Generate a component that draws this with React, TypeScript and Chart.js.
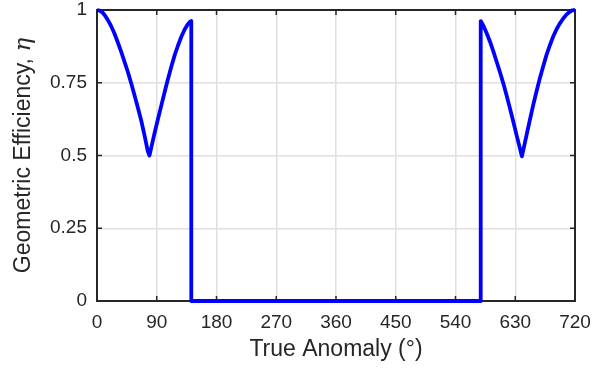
import React, { useEffect, useRef } from "react";
import { Chart, registerables } from "chart.js";

Chart.register(...registerables);

// True anomaly (degrees) and geometric efficiency along one orbit pair
const anomalyDeg: number[] = [
  0, 4, 8, 12, 16, 21, 26, 31, 36.5, 41.5, 46.5, 51.5, 56.5, 61.5, 66.5, 71.5, 76.5, 79,
  83, 87, 92, 97, 102, 107, 112, 117, 122, 127, 132, 137, 140, 142, 142,
  578, 578, 582, 587, 592, 597, 602, 607, 612, 617, 622, 627, 632, 636, 640,
  643.5, 647, 652, 657, 662, 667, 672, 677, 682, 687, 692, 697, 702, 707, 712, 716, 720,
];
const efficiency: number[] = [
  1, 0.998, 0.992, 0.981, 0.967, 0.946, 0.921, 0.891, 0.856, 0.822, 0.787, 0.748, 0.707, 0.665, 0.621, 0.57, 0.515, 0.5,
  0.54, 0.58, 0.627, 0.673, 0.719, 0.764, 0.806, 0.845, 0.878, 0.908, 0.933, 0.952, 0.959, 0.962, 0,
  0, 0.962, 0.946, 0.92, 0.891, 0.858, 0.822, 0.786, 0.748, 0.706, 0.662, 0.617, 0.57, 0.534, 0.497,
  0.533, 0.57, 0.622, 0.673, 0.72, 0.765, 0.806, 0.845, 0.878, 0.908, 0.933, 0.953, 0.970, 0.984, 0.994, 0.999, 1,
];

const xTicks: number[] = [0, 90, 180, 270, 360, 450, 540, 630, 720];
const yTicks: number[] = [0, 0.25, 0.5, 0.75, 1];

const xTitle = "True Anomaly (°)";
const yTitle = "Geometric Efficiency, ";
const yTitleSymbol = "η";

const INK = "#262626";
const SANS = '"Liberation Sans", Arial, Helvetica, sans-serif';

// Box outline with inward tick marks on all four sides
const frame = {
  id: "frame",
  beforeDatasetsDraw(chart: any) {
    const { ctx, chartArea: a, scales } = chart;
    const len = 5;
    ctx.save();
    ctx.strokeStyle = INK;
    ctx.lineWidth = 1.5;
    ctx.beginPath();
    for (const v of xTicks) {
      const px = scales.x.getPixelForValue(v);
      ctx.moveTo(px, a.bottom);
      ctx.lineTo(px, a.bottom - len);
      ctx.moveTo(px, a.top);
      ctx.lineTo(px, a.top + len);
    }
    for (const v of yTicks) {
      const py = scales.y.getPixelForValue(v);
      ctx.moveTo(a.left, py);
      ctx.lineTo(a.left + len, py);
      ctx.moveTo(a.right, py);
      ctx.lineTo(a.right - len, py);
    }
    ctx.stroke();
    ctx.lineWidth = 2;
    ctx.strokeRect(a.left, a.top, a.right - a.left, a.bottom - a.top);
    ctx.restore();
  },
  afterDraw(chart: any) {
    const { ctx, chartArea: a } = chart;
    ctx.save();
    ctx.fillStyle = INK;
    ctx.textBaseline = "middle";
    // x-axis title
    ctx.font = `23px ${SANS}`;
    ctx.textAlign = "center";
    ctx.fillText(xTitle, (a.left + a.right) / 2, 350);
    // y-axis title: sans text followed by an italic symbol
    const mainFont = `23px ${SANS}`;
    const symFont = `italic 23px "DejaVu Serif", "Liberation Serif", serif`;
    ctx.font = mainFont;
    const w1 = ctx.measureText(yTitle).width;
    ctx.font = symFont;
    const w2 = ctx.measureText(yTitleSymbol).width;
    const total = w1 + w2;
    ctx.translate(24, (a.top + a.bottom) / 2);
    ctx.rotate(-Math.PI / 2);
    ctx.textAlign = "left";
    ctx.font = mainFont;
    ctx.fillText(yTitle, -total / 2, 0);
    ctx.font = symFont;
    ctx.fillText(yTitleSymbol, -total / 2 + w1, 0);
    ctx.restore();
  },
};

export default function App() {
  const ref = useRef<HTMLCanvasElement | null>(null);

  useEffect(() => {
    if (!ref.current) return;
    const points = anomalyDeg.map((x, i) => ({ x, y: efficiency[i] }));
    const chart = new Chart(ref.current, {
      type: "line",
      data: {
        datasets: [
          {
            data: points,
            borderColor: "#0000ff",
            borderWidth: 3.8,
            borderJoinStyle: "round",
            pointRadius: 0,
            tension: 0,
            fill: false,
            clip: 4,
          } as any,
        ],
      },
      plugins: [frame],
      options: {
        animation: false,
        responsive: false,
        devicePixelRatio: 1,
        layout: { padding: { top: 10, right: 22, left: 0, bottom: 0 } },
        plugins: {
          legend: { display: false },
          tooltip: { enabled: false },
        },
        scales: {
          x: {
            type: "linear",
            min: 0,
            max: 720,
            afterBuildTicks: (s: any) => {
              s.ticks = xTicks.map((v) => ({ value: v }));
            },
            afterFit: (s: any) => {
              s.height = 70;
              s.paddingLeft = 0;
              s.paddingRight = 0;
            },
            ticks: {
              color: INK,
              font: { family: SANS, size: 19 },
              padding: 10,
              maxRotation: 0,
              autoSkip: false,
            },
            grid: { color: "#e0e0e0", lineWidth: 1.5, drawTicks: false },
            border: { display: false },
          },
          y: {
            type: "linear",
            min: 0,
            max: 1,
            afterBuildTicks: (s: any) => {
              s.ticks = yTicks.map((v) => ({ value: v }));
            },
            afterFit: (s: any) => {
              s.width = 97;
              s.paddingTop = 0;
              s.paddingBottom = 0;
            },
            ticks: {
              color: INK,
              font: { family: SANS, size: 19 },
              padding: 10,
              autoSkip: false,
              callback: (v: any) => String(v),
            },
            grid: { color: "#e0e0e0", lineWidth: 1.5, drawTicks: false },
            border: { display: false },
          },
        },
      },
    });
    return () => chart.destroy();
  }, []);

  return (
    <div style={{ position: "absolute", left: 0, top: 0, width: 597, height: 371, background: "#fff" }}>
      <canvas ref={ref} width={597} height={371} />
    </div>
  );
}
